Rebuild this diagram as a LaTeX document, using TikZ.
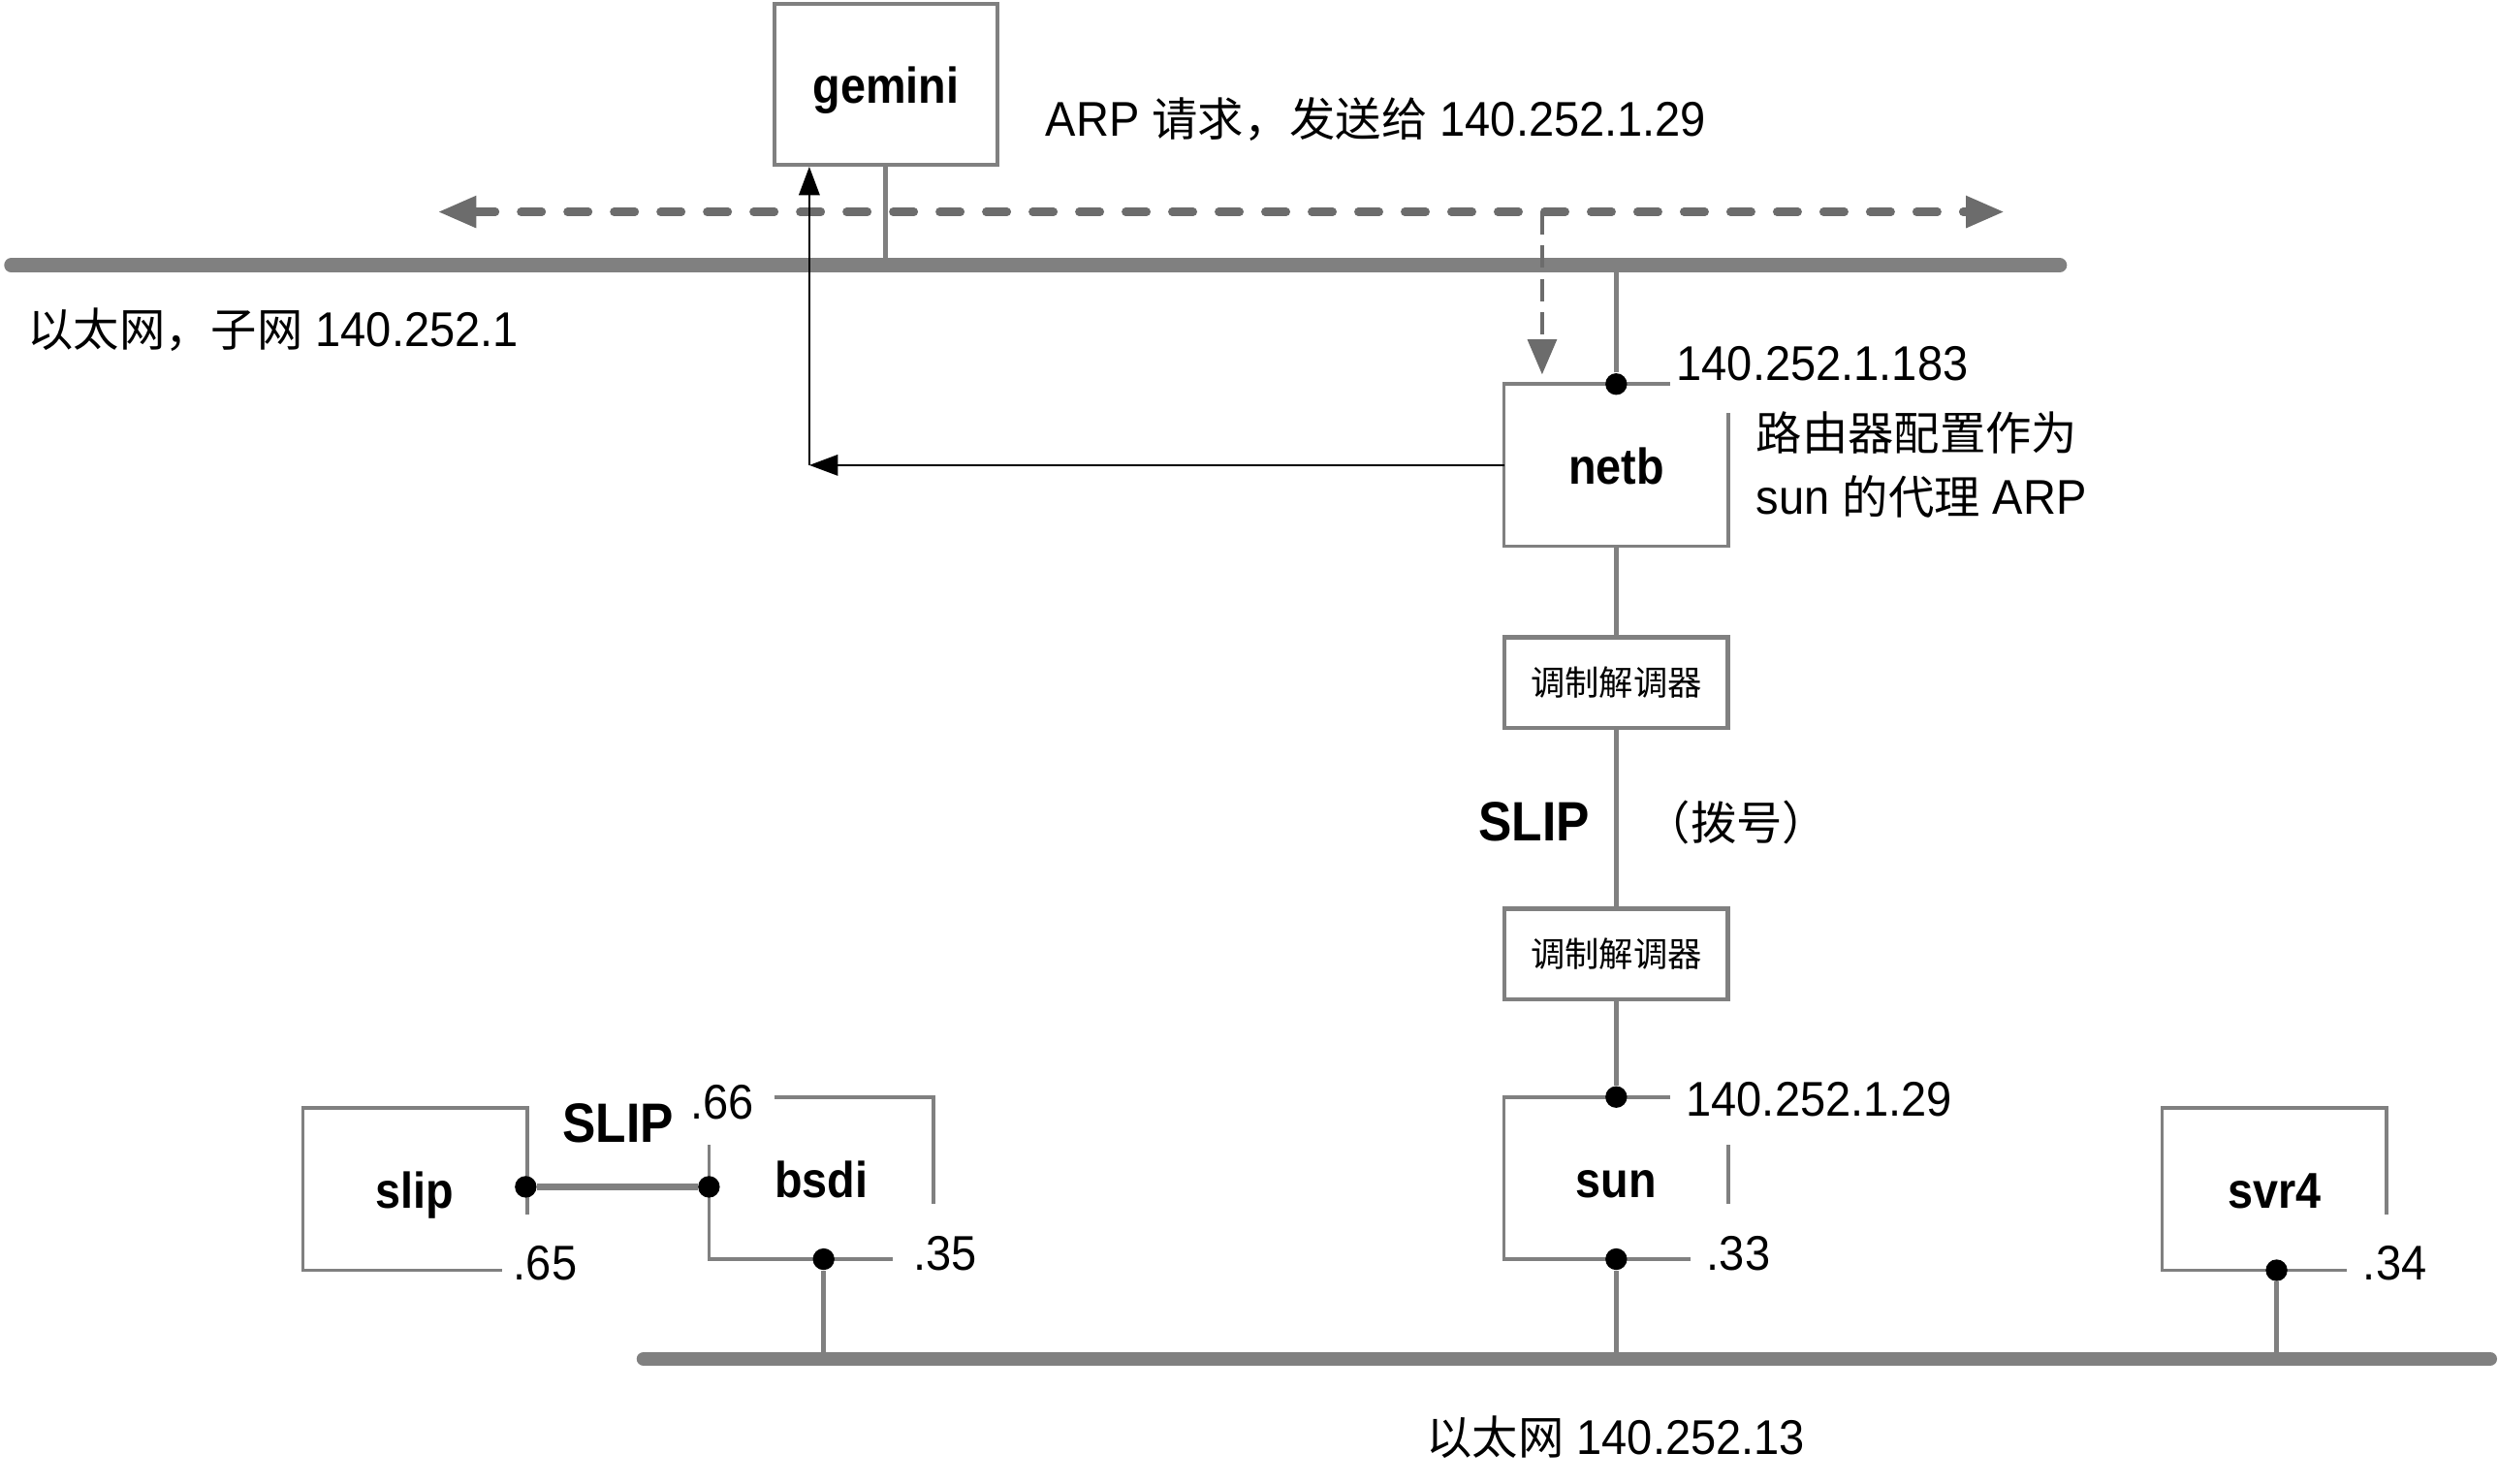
\documentclass[tikz,border=0pt]{standalone}
\usepackage{fontspec}
\setmainfont{Liberation Sans}[FakeStretch=0.935, BoldFeatures={FakeStretch=0.9}]
\newfontfamily\cjk{Noto Sans CJK SC}
\usetikzlibrary{arrows.meta}
\definecolor{netgray}{RGB}{128,128,128}
\definecolor{arpgray}{RGB}{108,108,108}
\newcommand\zh[1]{{\cjk\fontsize{14.4}{20}\selectfont #1}}

\begin{document}
\begin{tikzpicture}[x=0.5pt, y=-0.5pt,
  ether/.style={netgray, line width=4.4pt, line cap=round},
  frame/.style={netgray, line width=1.1pt},
  link/.style={netgray, line width=1.5pt},
  slipline/.style={netgray, line width=2.2pt},
  host/.style={minimum width=70pt, minimum height=50.5pt, inner sep=0pt,
    text height=14.5pt, text depth=2.5pt,
    font=\fontsize{15.8}{18}\selectfont\bfseries},
  modem/.style={draw=netgray, line width=1.3pt, minimum width=70pt,
    minimum height=28.5pt, inner sep=0pt, font=\cjk\fontsize{10.75}{12}\selectfont},
  dot/.style={circle, fill=black, inner sep=0pt, minimum size=6.8pt},
  txt/.style={inner sep=0pt, font=\fontsize{15.3}{20}\selectfont},
  big/.style={inner sep=0pt, font=\fontsize{17.4}{20}\selectfont\bfseries},
  arpline/.style={arpgray, line width=2.5pt, line cap=round, dash pattern=on 6.6pt off 8pt,
    {Triangle[length=12pt,width=9.5pt]}-{Triangle[length=12pt,width=9.5pt]}},
  arpdown/.style={arpgray, line width=1.3pt, dash pattern=on 7pt off 3.5pt,
    -{Triangle[length=11pt,width=9pt]}},
  reply/.style={black, line width=0.8pt, -{Triangle[length=9pt,width=6.5pt]}}]

  \useasboundingbox (0,0) rectangle (1568,931);

  % the two ethernets
  \coordinate (barAL) at (7,166.5);
  \coordinate (barAR) at (1293,166.5);
  \coordinate (barBL) at (404,853);
  \coordinate (barBR) at (1563,853);
  \draw[ether] (barAL) -- (barAR);
  \draw[ether] (barBL) -- (barBR);

  % hosts
  \node[host, draw=netgray, line width=1.1pt] (gemini) at (556,53) {gemini};
  \node[host] (netb) at (1014.5,292) {netb};
  \node[modem] (modemA) at (1014.5,428.5) {调制解调器};
  \node[modem] (modemB) at (1014.5,599) {调制解调器};
  \node[host] (sun) at (1014.5,739.5) {sun};
  \node[host] (svr4) at (1427.5,746.5) {svr4};
  \node[host] (bsdi) at (515.5,739.5) {bsdi};
  \node[host] (slip) at (260.5,746.5) {slip};

  % open frames
  \draw[frame] ([xshift=52pt]netb.north west) -- (netb.north west) -- (netb.south west)
    -- (netb.south east) -- ([yshift=-9pt]netb.north east);
  \draw[frame] ([xshift=52pt]sun.north west) -- (sun.north west) -- (sun.south west)
    -- ([xshift=58.5pt]sun.south west);
  \draw[frame] ([yshift=-15pt]sun.north east) -- ([yshift=-33.5pt]sun.north east);
  \draw[frame] ([yshift=-33.5pt]svr4.north east) -- (svr4.north east) -- (svr4.north west)
    -- (svr4.south west) -- ([xshift=58pt]svr4.south west);
  \draw[frame] ([xshift=20.5pt]bsdi.north west) -- (bsdi.north east)
    -- ([yshift=-33.5pt]bsdi.north east);
  \draw[frame] ([yshift=-15pt]bsdi.north west) -- (bsdi.south west)
    -- ([xshift=57.5pt]bsdi.south west);
  \draw[frame] ([yshift=-33.5pt]slip.north east) -- (slip.north east) -- (slip.north west)
    -- (slip.south west) -- ([xshift=62.5pt]slip.south west);

  % interfaces
  \node[dot] (netbT) at (netb.north) {};
  \node[dot] (sunT) at (sun.north) {};
  \node[dot] (sunB) at (sun.south) {};
  \node[dot] (svr4B) at ([xshift=0.75pt]svr4.south) {};
  \node[dot] (bsdiB) at ([xshift=0.75pt]bsdi.south) {};
  \node[dot] (bsdiL) at (445,745) {};
  \node[dot] (slipR) at (330,745) {};

  % links
  \draw[link] (gemini.south) -- (gemini.south |- barAL);
  \draw[link] (netbT) -- (netbT |- barAL);
  \draw[link] (netb) -- (modemA);
  \draw[link] (modemA) -- (modemB);
  \draw[link] (modemB) -- (sunT);
  \draw[link] (sunB) -- (sunB |- barBL);
  \draw[link] (bsdiB) -- (bsdiB |- barBL);
  \draw[link] (svr4B) -- (svr4B |- barBL);
  \draw[slipline] (slipR) -- (bsdiL);

  % ARP request and proxy reply
  \coordinate (arpL) at (275,133);
  \coordinate (arpR) at (1258,133);
  \coordinate (arpC) at (968,133);
  \draw[arpline] (arpL) -- (arpR);
  \draw[arpdown, shorten >=3pt] (arpC) -- (arpC |- netb.north);
  \coordinate (turn) at (508,292);
  \draw[reply] (netb.west) -- (turn);
  \draw[reply] (turn) -- (turn |- gemini.south);

  % labels
  \node[txt, anchor=west] (arpmsg) at (656,75) {ARP \zh{请求，发送给} 140.252.1.29};
  \node[txt, anchor=west] (net1) at (17,207) {\zh{以太网，子网} 140.252.1};
  \node[txt, anchor=west] (ipnetb) at (1052,228) {140.252.1.183};
  \node[txt, anchor=west, align=left] (proxy) at (1102,292) {\zh{路由器配置作为}\\sun \zh{的代理} ARP};
  \node[big] (slipA) at (963,516) {SLIP};
  \node[txt] (dial) at (1090,516) {\zh{（拨号）}};
  \node[txt, anchor=west] (ipsun) at (1058,690) {140.252.1.29};
  \node[txt, anchor=west] (ip33) at (1071,787) {.33};
  \node[txt, anchor=west] (ip34) at (1483,793) {.34};
  \node[txt, anchor=west] (ip35) at (573,787) {.35};
  \node[txt, anchor=west] (ip65) at (322,793) {.65};
  \node[txt, anchor=west] (ip66) at (433,692) {.66};
  \node[big] (slipB) at (388,705) {SLIP};
  \node[txt, anchor=west] (net13) at (895,902) {\zh{以太网} 140.252.13};

\end{tikzpicture}
\end{document}
